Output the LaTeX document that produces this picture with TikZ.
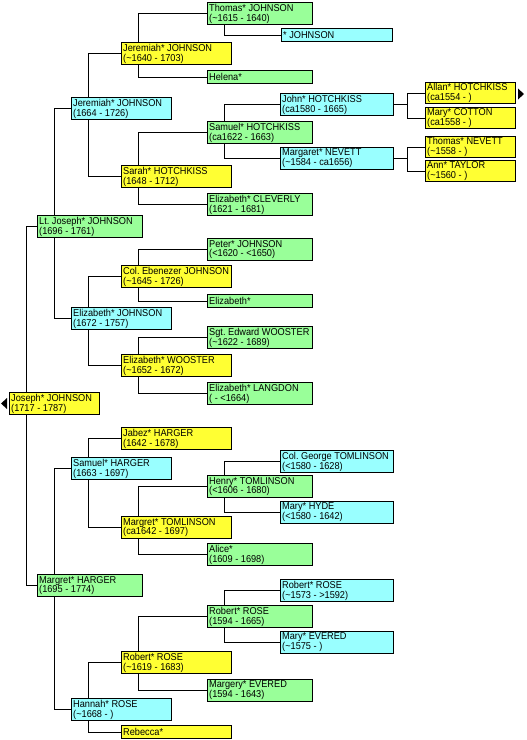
\documentclass[tikz,border=0pt]{standalone}
\usepackage{fontspec}
\setmainfont{Liberation Sans}[FakeStretch=0.92]
\newcommand\pfont{\fontsize{10pt}{9.9pt}\selectfont\frenchspacing}
\definecolor{pyellow}{HTML}{FFFF33}
\definecolor{pgreen}{HTML}{99FF99}
\definecolor{pcyan}{HTML}{99FFFF}
% a person box with its name and dates set flush left inside it
\newcommand\person[4]{%
  \node[#1] (#2) at (#3) {};
  \node[lbl] (#2-t) at (#2.west) {#4};}
\begin{document}
\begin{tikzpicture}[x=1pt,y=-1pt,
  pbox/.style={draw=black, line width=1pt, rectangle, anchor=north west,
    inner sep=0pt, minimum height=22pt},
  lbl/.style={anchor=west, inner xsep=2pt, inner ysep=0pt, align=left, font=\pfont},
  one/.style={minimum height=13pt},
  yel/.style={pbox, fill=pyellow},
  grn/.style={pbox, fill=pgreen},
  cyn/.style={pbox, fill=pcyan},
  wA/.style={minimum width=90pt},
  wB/.style={minimum width=105pt},
  wC/.style={minimum width=100pt},
  wD/.style={minimum width=110pt},
  wE/.style={minimum width=105pt},
  wF/.style={minimum width=113pt},
  wG/.style={minimum width=90pt, minimum height=21pt},
  link/.style={draw=black, line width=1pt}]
\useasboundingbox (0,0) rectangle (527,740);

% generation 0
\person{yel,wA}{joseph}{9,392}{Joseph* JOHNSON\\(1717 - 1787)}

% generation 1
\person{grn,wB}{ltjoseph}{37,215}{Lt. Joseph* JOHNSON\\(1696 - 1761)}
\person{grn,wB}{margretH}{37,574}{Margret* HARGER\\(1695 - 1774)}

% generation 2
\person{cyn,wC}{jeremiahC}{71,97}{Jeremiah* JOHNSON\\(1664 - 1726)}
\person{cyn,wC}{elizJ}{71,307}{Elizabeth* JOHNSON\\(1672 - 1757)}
\person{cyn,wC}{samuelH}{71,457}{Samuel* HARGER\\(1663 - 1697)}
\person{cyn,wC}{hannah}{71,698}{Hannah* ROSE\\(\textasciitilde1668 - )}

% generation 3
\person{yel,wD}{jeremiahY}{121,42}{Jeremiah* JOHNSON\\(\textasciitilde1640 - 1703)}
\person{yel,wD}{sarah}{121,165}{Sarah* HOTCHKISS\\(1648 - 1712)}
\person{yel,wD}{ebenezer}{121,265}{Col. Ebenezer JOHNSON\\(\textasciitilde1645 - 1726)}
\person{yel,wD}{elizW}{121,354}{Elizabeth* WOOSTER\\(\textasciitilde1652 - 1672)}
\person{yel,wD}{jabez}{121,427}{Jabez* HARGER\\(1642 - 1678)}
\person{yel,wD}{margretT}{121,516}{Margret* TOMLINSON\\(ca1642 - 1697)}
\person{yel,wD}{robertY}{121,651}{Robert* ROSE\\(\textasciitilde1619 - 1683)}
\person{yel,wD,one}{rebecca}{121,725}{Rebecca*}

% generation 4
\person{grn,wE}{thomasJ}{207,2}{Thomas* JOHNSON\\(\textasciitilde1615 - 1640)}
\person{grn,wE,one}{helena}{207,70}{Helena*}
\person{grn,wE}{samuelHo}{207,121}{Samuel* HOTCHKISS\\(ca1622 - 1663)}
\person{grn,wE}{cleverly}{207,193}{Elizabeth* CLEVERLY\\(1621 - 1681)}
\person{grn,wE}{peter}{207,238}{Peter* JOHNSON\\(<1620 - <1650)}
\person{grn,wE,one}{elizStar}{207,294}{Elizabeth*}
\person{grn,wE}{edward}{207,326}{Sgt. Edward WOOSTER\\(\textasciitilde1622 - 1689)}
\person{grn,wE}{langdon}{207,382}{Elizabeth* LANGDON\\( - <1664)}
\person{grn,wE}{henry}{207,475}{Henry* TOMLINSON\\(<1606 - 1680)}
\person{grn,wE}{alice}{207,543}{Alice*\\(1609 - 1698)}
\person{grn,wE}{robertG}{207,605}{Robert* ROSE\\(1594 - 1665)}
\person{grn,wE}{margery}{207,679}{Margery* EVERED\\(1594 - 1643)}

% generation 5
\person{cyn,minimum width=111pt,one}{starJ}{281,28}{* JOHNSON}
\person{cyn,wF}{john}{280,93}{John* HOTCHKISS\\(ca1580 - 1665)}
\person{cyn,wF}{margaretN}{280,147}{Margaret* NEVETT\\(\textasciitilde1584 - ca1656)}
\person{cyn,wF}{george}{280,450}{Col. George TOMLINSON\\(<1580 - 1628)}
\person{cyn,wF}{hyde}{280,501}{Mary* HYDE\\(<1580 - 1642)}
\person{cyn,wF}{robertC}{280,579}{Robert* ROSE\\(\textasciitilde1573 - >1592)}
\person{cyn,wF}{evered}{280,631}{Mary* EVERED\\(\textasciitilde1575 - )}

% generation 6
\person{yel,wG}{allan}{425,82}{Allan* HOTCHKISS\\(ca1554 - )}
\person{yel,wG}{cotton}{425,107}{Mary* COTTON\\(ca1558 - )}
\person{yel,wG}{nevett}{425,136}{Thomas* NEVETT\\(\textasciitilde1558 - )}
\person{yel,wG}{taylor}{425,160}{Ann* TAYLOR\\(\textasciitilde1560 - )}

% father above, mother below each child
\foreach \c/\f/\m in {joseph/ltjoseph/margretH, ltjoseph/jeremiahC/elizJ,
    margretH/samuelH/hannah, jeremiahC/jeremiahY/sarah, elizJ/ebenezer/elizW,
    samuelH/jabez/margretT, hannah/robertY/rebecca, jeremiahY/thomasJ/helena,
    sarah/samuelHo/cleverly, ebenezer/peter/elizStar, elizW/edward/langdon,
    margretT/henry/alice, robertY/robertG/margery, samuelHo/john/margaretN,
    henry/george/hyde, robertG/robertC/evered} {
  \draw[link] ([xshift=17.5pt]\c.north west) |- (\f.west);
  \draw[link] ([xshift=17.5pt]\c.south west) |- (\m.west);
}
\draw[link] ([xshift=17.5pt]thomasJ.south west) |- (starJ.west);

% forks from the right edge
\coordinate (jfork) at ([xshift=-18pt]allan.west);
\draw[link] (allan.west) -- (jfork) |- (cotton.west);
\draw[link] (john.east) -- (jfork |- john.east);
\coordinate (mfork) at ([xshift=-18pt]nevett.west);
\draw[link] (nevett.west) -- (mfork) |- (taylor.west);
\draw[link] (margaretN.east) -- (mfork |- margaretN.east);

% continuation markers
\fill ([xshift=-2pt]joseph.west) ++(0,-5.5) -- ++(0,11) -- ++(-6,-5.5) -- cycle;
\fill ([xshift=2pt,yshift=-1pt]allan.east) ++(0,-5.5) -- ++(0,11) -- ++(6,-5.5) -- cycle;
\end{tikzpicture}
\end{document}
